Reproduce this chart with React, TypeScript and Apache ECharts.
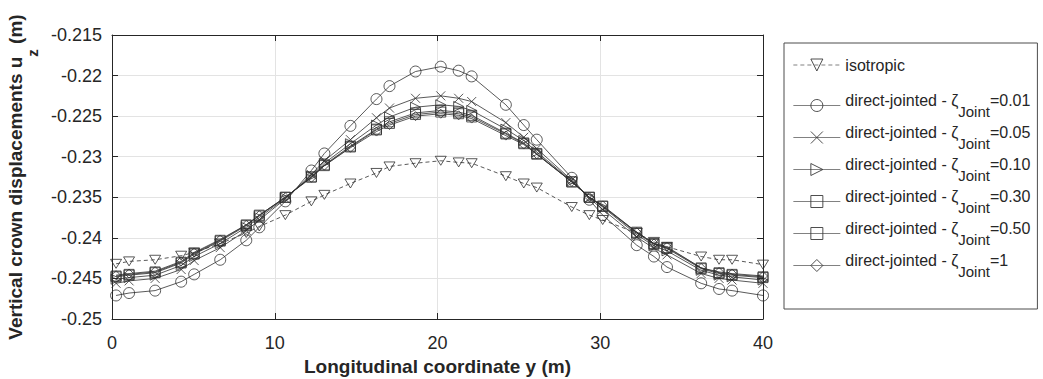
import React, { useEffect, useRef } from "react";
import * as echarts from "echarts";

// Longitudinal coordinate y (m) of the sampled crown points
const xPositions = [0.25, 1.05, 2.65, 4.25, 5.05, 6.65, 8.25, 9.05, 10.65, 12.25, 13.05, 14.65, 16.25, 17.05, 18.65, 20.2, 21.3, 22.1, 24.2, 25.3, 26.1, 28.25, 29.33, 30.15, 32.24, 33.3, 34.1, 36.2, 37.3, 38.1, 40];

const isotropic = [-0.2432, -0.2429, -0.2427, -0.2422, -0.2418, -0.2407, -0.2394, -0.2386, -0.2372, -0.2355, -0.2347, -0.2333, -0.2320, -0.2312, -0.2308, -0.2305, -0.2307, -0.2308, -0.2324, -0.2333, -0.2338, -0.2362, -0.2372, -0.2378, -0.2394, -0.2405, -0.2411, -0.2423, -0.2427, -0.2427, -0.2433];
const joint001 = [-0.2471, -0.2468, -0.2465, -0.2454, -0.2445, -0.2427, -0.2403, -0.2387, -0.2355, -0.2317, -0.2296, -0.2262, -0.2229, -0.2213, -0.2195, -0.2189, -0.2194, -0.2201, -0.2236, -0.2261, -0.2279, -0.2326, -0.2353, -0.2372, -0.2409, -0.2423, -0.2436, -0.2456, -0.2463, -0.2465, -0.2471];
const joint005 = [-0.2456, -0.2453, -0.2450, -0.2439, -0.2428, -0.2412, -0.2391, -0.2378, -0.2352, -0.2322, -0.2305, -0.2279, -0.2252, -0.2240, -0.2228, -0.2225, -0.2228, -0.2232, -0.2258, -0.2276, -0.2290, -0.2329, -0.2351, -0.2365, -0.2399, -0.2413, -0.2421, -0.2444, -0.2450, -0.2452, -0.2456];
const joint010 = [-0.2451, -0.2449, -0.2446, -0.2434, -0.2423, -0.2407, -0.2387, -0.2375, -0.2351, -0.2324, -0.2308, -0.2284, -0.2261, -0.2251, -0.2239, -0.2236, -0.2238, -0.2243, -0.2266, -0.2280, -0.2294, -0.2330, -0.2350, -0.2362, -0.2396, -0.2410, -0.2416, -0.2440, -0.2446, -0.2448, -0.2452];
const joint030 = [-0.2448, -0.2446, -0.2443, -0.2431, -0.2420, -0.2404, -0.2385, -0.2373, -0.2350, -0.2325, -0.2310, -0.2287, -0.2266, -0.2257, -0.2246, -0.2243, -0.2245, -0.2249, -0.2271, -0.2283, -0.2296, -0.2331, -0.2350, -0.2361, -0.2394, -0.2408, -0.2413, -0.2438, -0.2444, -0.2446, -0.2449];
const joint050 = [-0.2447, -0.2445, -0.2442, -0.2430, -0.2419, -0.2403, -0.2384, -0.2372, -0.2350, -0.2325, -0.2311, -0.2288, -0.2267, -0.2259, -0.2248, -0.2245, -0.2247, -0.2251, -0.2272, -0.2284, -0.2297, -0.2331, -0.2350, -0.2361, -0.2393, -0.2407, -0.2412, -0.2437, -0.2443, -0.2445, -0.2448];
const joint1 = [-0.2446, -0.2444, -0.2441, -0.2429, -0.2418, -0.2402, -0.2384, -0.2372, -0.2350, -0.2326, -0.2311, -0.2289, -0.2269, -0.2261, -0.2250, -0.2247, -0.2249, -0.2253, -0.2274, -0.2285, -0.2297, -0.2331, -0.2350, -0.2360, -0.2393, -0.2407, -0.2411, -0.2437, -0.2442, -0.2444, -0.2447];

const jointLabels = ["0.01", "0.05", "0.10", "0.30", "0.50", "1"];
const xTicks = [0, 10, 20, 30, 40];
const yTickLabels = ["-0.25", "-0.245", "-0.24", "-0.235", "-0.23", "-0.225", "-0.22", "-0.215"];

const FONT = "'Liberation Sans', Arial, Helvetica, sans-serif";
const INK = "#262626";
const LINE = "#303030";

const SYM_TRI_DOWN = "path://M0,0L12,0L6,10Z";
const SYM_TRI_RIGHT = "path://M0,0L11,6L0,12Z";
const SYM_CROSS = "path://M0,0L10,10M0,10L10,0";

function lineSeries(name: string, values: number[], symbol: string, symbolSize: number | number[], dashed = false) {
  return {
    type: "line",
    name,
    data: xPositions.map((x, i) => [x, values[i]]),
    symbol,
    symbolSize,
    showSymbol: true,
    lineStyle: { color: LINE, width: 0.8, type: dashed ? [4, 3] : "solid" },
    itemStyle: { color: "rgba(0,0,0,0)", borderColor: LINE, borderWidth: 0.8 },
    emphasis: { disabled: true },
    silent: true,
  };
}

export default function App() {
  const ref = useRef<HTMLDivElement>(null);
  useEffect(() => {
    const chart = echarts.init(ref.current!, null, { renderer: "svg" });
    const jointNames = jointLabels.map((v) => `direct-jointed - ζJoint=${v}`);
    const yMin = Number(yTickLabels[0]);
    const yMax = Number(yTickLabels[yTickLabels.length - 1]);
    const axisLineStyle = { color: INK, width: 1 };
    const option: any = {
      animation: false,
      backgroundColor: "#ffffff",
      textStyle: { fontFamily: FONT },
      grid: { left: 112, right: 280, top: 35, bottom: 60, containLabel: false, outerBoundsMode: "none" },
      xAxis: [
        {
          type: "value",
          min: xTicks[0],
          max: xTicks[xTicks.length - 1],
          interval: 10,
          position: "bottom",
          name: "Longitudinal coordinate y (m)",
          nameLocation: "middle",
          nameGap: 30,
          nameTextStyle: { fontFamily: FONT, fontWeight: "bold", fontSize: 19, color: INK },
          axisLine: { show: true, onZero: false, lineStyle: axisLineStyle },
          axisTick: { show: true, inside: true, length: 6, lineStyle: axisLineStyle },
          axisLabel: { fontFamily: FONT, fontSize: 18, color: INK, margin: 15 },
          splitLine: { show: true, lineStyle: { color: "#e3e3e3", width: 1 } },
        },
        {
          type: "value",
          min: xTicks[0],
          max: xTicks[xTicks.length - 1],
          interval: 10,
          position: "top",
          axisLine: { show: true, onZero: false, lineStyle: axisLineStyle },
          axisTick: { show: true, inside: true, length: 6, lineStyle: axisLineStyle },
          axisLabel: { show: false },
          splitLine: { show: false },
        },
      ],
      yAxis: [
        {
          type: "value",
          min: yMin,
          max: yMax,
          interval: 0.005,
          position: "left",
          name: "{m|Vertical crown displacements u}{z|z}{m| (m)}",
          nameLocation: "middle",
          nameRotate: 90,
          nameGap: 65,
          nameTextStyle: {
            fontFamily: FONT,
            fontWeight: "bold",
            fontSize: 19,
            color: INK,
            rich: {
              m: { fontFamily: FONT, fontWeight: "bold", fontSize: 19, lineHeight: 20, color: INK, padding: [0, 0, 12, 0] },
              z: { fontFamily: FONT, fontWeight: "bold", fontSize: 15, lineHeight: 18, color: INK, padding: [22, 0, 0, 0] },
            },
          },
          axisLine: { show: true, onZero: false, lineStyle: axisLineStyle },
          axisTick: { show: true, inside: true, length: 6, lineStyle: axisLineStyle },
          axisLabel: {
            fontFamily: FONT,
            fontSize: 18,
            color: INK,
            margin: 10,
            formatter: (v: number) => String(parseFloat(v.toFixed(3))),
          },
          splitLine: { show: true, lineStyle: { color: "#e3e3e3", width: 1 } },
        },
        {
          type: "value",
          min: yMin,
          max: yMax,
          interval: 0.005,
          position: "right",
          axisLine: { show: true, onZero: false, lineStyle: axisLineStyle },
          axisTick: { show: true, inside: true, length: 6, lineStyle: axisLineStyle },
          axisLabel: { show: false },
          splitLine: { show: false },
        },
      ],
      legend: {
        orient: "vertical",
        left: 784,
        top: 43,
        padding: [0, 7, 30, 9],
        itemGap: 5,
        itemWidth: 47,
        itemHeight: 15,
        borderColor: "#4d4d4d",
        borderWidth: 1,
        backgroundColor: "#ffffff",
        selectedMode: false,
        data: ["isotropic", ...jointNames],
        itemStyle: { color: "rgba(0,0,0,0)", borderColor: "#3a3a3a", borderWidth: 0.9 },
        lineStyle: { color: "#4a4a4a", width: 0.7 },
        formatter: (name: string) => {
          if (name === "isotropic") return "{iso|isotropic}";
          const v = name.split("=")[1];
          return `{a|direct-jointed - ζ}{s|Joint}{a|=${v}}`;
        },
        textStyle: {
          fontFamily: FONT,
          fontSize: 16,
          color: INK,
          rich: {
            iso: { fontFamily: FONT, fontSize: 16, lineHeight: 16, color: INK, padding: [14, 0, 14, 0] },
            a: { fontFamily: FONT, fontSize: 16, lineHeight: 16, color: INK, padding: [0, 0, 10, 0] },
            s: { fontFamily: FONT, fontSize: 15, lineHeight: 14, color: INK, padding: [12, 0, 0, 0] },
          },
        },
      },
      series: [
        lineSeries("isotropic", isotropic, SYM_TRI_DOWN, [11, 9], true),
        lineSeries(jointNames[0], joint001, "circle", 11),
        lineSeries(jointNames[1], joint005, SYM_CROSS, 9),
        lineSeries(jointNames[2], joint010, SYM_TRI_RIGHT, [10, 10]),
        lineSeries(jointNames[3], joint030, "rect", 10),
        lineSeries(jointNames[4], joint050, "rect", 10),
        lineSeries(jointNames[5], joint1, "diamond", 9),
      ],
    };
    chart.setOption(option);
    return () => chart.dispose();
  }, []);
  return (
    <div
      ref={ref}
      style={{ position: "absolute", left: 0, top: 0, width: 1043, height: 379, background: "#fff" }}
    />
  );
}
